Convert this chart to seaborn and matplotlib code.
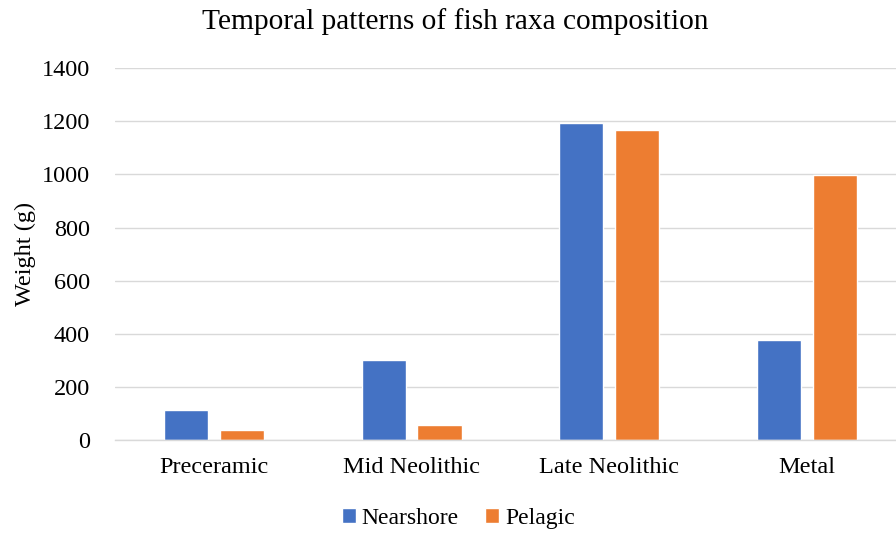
import matplotlib
matplotlib.use("Agg")
import matplotlib.pyplot as plt
import seaborn as sns
import pandas as pd

periods = ["Preceramic", "Mid Neolithic", "Late Neolithic", "Metal"]
nearshore = [114, 302, 1194, 378]
pelagic = [38, 55, 1167, 997]
series_names = ["Nearshore", "Pelagic"]
colors = ["#4472C4", "#ED7D31"]

df = pd.DataFrame({
    "Period": periods * 2,
    "Weight": nearshore + pelagic,
    "Group": [series_names[0]] * 4 + [series_names[1]] * 4,
})

sns.set_style("white")
plt.rcParams['font.family'] = ['Liberation Serif', 'DejaVu Serif']
plt.rcParams['text.color'] = 'black'
plt.rcParams['axes.labelcolor'] = 'black'

fig = plt.figure(figsize=(8.96, 5.33), dpi=100)
ax = fig.add_axes([0.1283, 0.1745, 0.8826, 0.6975])

sns.barplot(data=df, x="Period", y="Weight", hue="Group", palette=colors,
            width=0.566, gap=0.213, ax=ax, saturation=1, legend=True)

ax.set_xlim(-0.5, 3.5)
ax.set_ylim(0, 1400)
ax.set_yticks(range(0, 1401, 200))
ax.yaxis.grid(True, color="#D9D9D9", linewidth=1)
ax.set_axisbelow(True)
for s in ["top", "right", "left"]:
    ax.spines[s].set_visible(False)
ax.spines["bottom"].set_color("#D9D9D9")
ax.spines["bottom"].set_linewidth(1)
ax.tick_params(axis="both", length=0, labelsize=17.5, colors="black")
ax.tick_params(axis="x", pad=12)
ax.tick_params(axis="y", pad=18)
ax.set_xlabel("")
ax.set_ylabel("Weight (g)", fontsize=17.5)
ax.yaxis.set_label_coords(-0.1, 0.5)
fig.text(455 / 896, 0.985, "Temporal patterns of fish raxa composition",
         fontsize=21.2, ha="center", va="top")

leg = ax.legend(loc="upper center", bbox_to_anchor=(0.434, -0.125), ncol=2,
                frameon=False, fontsize=17, handlelength=0.6, handleheight=0.6,
                handletextpad=0.25, columnspacing=1.1)

fig.savefig("out.png", dpi=100)
